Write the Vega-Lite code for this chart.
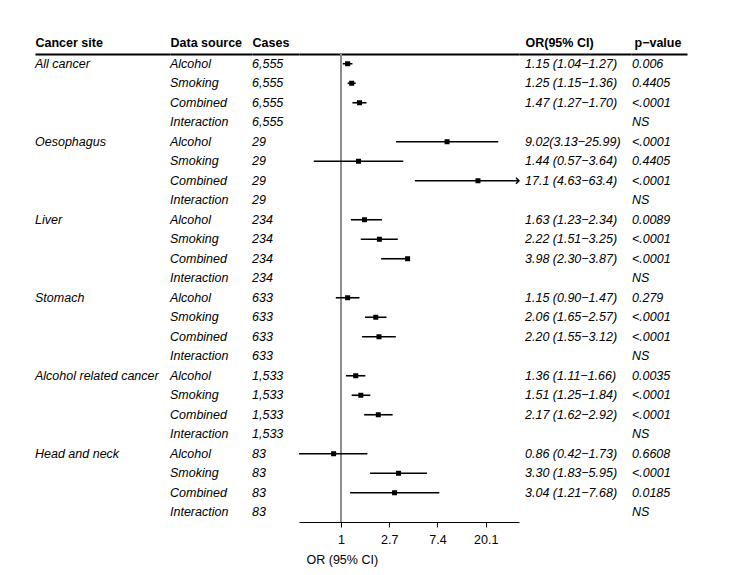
{
  "$schema": "https://vega.github.io/schema/vega-lite/v6.json",
  "background": "white",
  "padding": {"left": 35, "top": 36, "right": 20, "bottom": 5},
  "bounds": "flush",
  "spacing": 0,
  "config": {
    "view": {"stroke": null},
    "font": "Liberation Sans",
    "text": {"color": "black", "font": "Liberation Sans"},
    "axis": {"labelFont": "Liberation Sans", "titleFont": "Liberation Sans"}
  },
  "data": {
    "values": [
      {"id": 1, "site": "All cancer", "source": "Alcohol", "cases": "6,555", "or": 1.15, "lo": 1.04, "hi": 1.27, "ci": "1.15 (1.04−1.27)", "p": "0.006"},
      {"id": 2, "site": "All cancer", "source": "Smoking", "cases": "6,555", "or": 1.25, "lo": 1.15, "hi": 1.36, "ci": "1.25 (1.15−1.36)", "p": "0.4405"},
      {"id": 3, "site": "All cancer", "source": "Combined", "cases": "6,555", "or": 1.47, "lo": 1.27, "hi": 1.70, "ci": "1.47 (1.27−1.70)", "p": "<.0001"},
      {"id": 4, "site": "All cancer", "source": "Interaction", "cases": "6,555", "or": null, "lo": null, "hi": null, "ci": "", "p": "NS"},
      {"id": 5, "site": "Oesophagus", "source": "Alcohol", "cases": "29", "or": 9.02, "lo": 3.13, "hi": 25.99, "ci": "9.02(3.13−25.99)", "p": "<.0001"},
      {"id": 6, "site": "Oesophagus", "source": "Smoking", "cases": "29", "or": 1.44, "lo": 0.57, "hi": 3.64, "ci": "1.44 (0.57−3.64)", "p": "0.4405"},
      {"id": 7, "site": "Oesophagus", "source": "Combined", "cases": "29", "or": 17.1, "lo": 4.63, "hi": 63.4, "ci": "17.1 (4.63−63.4)", "p": "<.0001"},
      {"id": 8, "site": "Oesophagus", "source": "Interaction", "cases": "29", "or": null, "lo": null, "hi": null, "ci": "", "p": "NS"},
      {"id": 9, "site": "Liver", "source": "Alcohol", "cases": "234", "or": 1.63, "lo": 1.23, "hi": 2.34, "ci": "1.63 (1.23−2.34)", "p": "0.0089"},
      {"id": 10, "site": "Liver", "source": "Smoking", "cases": "234", "or": 2.22, "lo": 1.51, "hi": 3.25, "ci": "2.22 (1.51−3.25)", "p": "<.0001"},
      {"id": 11, "site": "Liver", "source": "Combined", "cases": "234", "or": 3.98, "lo": 2.30, "hi": 3.87, "ci": "3.98 (2.30−3.87)", "p": "<.0001"},
      {"id": 12, "site": "Liver", "source": "Interaction", "cases": "234", "or": null, "lo": null, "hi": null, "ci": "", "p": "NS"},
      {"id": 13, "site": "Stomach", "source": "Alcohol", "cases": "633", "or": 1.15, "lo": 0.90, "hi": 1.47, "ci": "1.15 (0.90−1.47)", "p": "0.279"},
      {"id": 14, "site": "Stomach", "source": "Smoking", "cases": "633", "or": 2.06, "lo": 1.65, "hi": 2.57, "ci": "2.06 (1.65−2.57)", "p": "<.0001"},
      {"id": 15, "site": "Stomach", "source": "Combined", "cases": "633", "or": 2.20, "lo": 1.55, "hi": 3.12, "ci": "2.20 (1.55−3.12)", "p": "<.0001"},
      {"id": 16, "site": "Stomach", "source": "Interaction", "cases": "633", "or": null, "lo": null, "hi": null, "ci": "", "p": "NS"},
      {"id": 17, "site": "Alcohol related cancer", "source": "Alcohol", "cases": "1,533", "or": 1.36, "lo": 1.11, "hi": 1.66, "ci": "1.36 (1.11−1.66)", "p": "0.0035"},
      {"id": 18, "site": "Alcohol related cancer", "source": "Smoking", "cases": "1,533", "or": 1.51, "lo": 1.25, "hi": 1.84, "ci": "1.51 (1.25−1.84)", "p": "<.0001"},
      {"id": 19, "site": "Alcohol related cancer", "source": "Combined", "cases": "1,533", "or": 2.17, "lo": 1.62, "hi": 2.92, "ci": "2.17 (1.62−2.92)", "p": "<.0001"},
      {"id": 20, "site": "Alcohol related cancer", "source": "Interaction", "cases": "1,533", "or": null, "lo": null, "hi": null, "ci": "", "p": "NS"},
      {"id": 21, "site": "Head and neck", "source": "Alcohol", "cases": "83", "or": 0.86, "lo": 0.42, "hi": 1.73, "ci": "0.86 (0.42−1.73)", "p": "0.6608"},
      {"id": 22, "site": "Head and neck", "source": "Smoking", "cases": "83", "or": 3.30, "lo": 1.83, "hi": 5.95, "ci": "3.30 (1.83−5.95)", "p": "<.0001"},
      {"id": 23, "site": "Head and neck", "source": "Combined", "cases": "83", "or": 3.04, "lo": 1.21, "hi": 7.68, "ci": "3.04 (1.21−7.68)", "p": "0.0185"},
      {"id": 24, "site": "Head and neck", "source": "Interaction", "cases": "83", "or": null, "lo": null, "hi": null, "ci": "", "p": "NS"}
    ]
  },
  "hconcat": [
    {
      "width": 135,
      "height": 468,
      "mark": {"type": "text", "align": "left", "baseline": "middle", "fontStyle": "italic", "fontSize": 12.5},
      "encoding": {
        "y": {"field": "id", "type": "ordinal", "axis": null, "scale": {"type": "point", "padding": 0.5, "domain": [1,2,3,4,5,6,7,8,9,10,11,12,13,14,15,16,17,18,19,20,21,22,23,24]}},
        "x": {"datum": 0, "type": "quantitative", "scale": {"domain": [0, 1]}, "axis": {"orient": "top", "title": "Cancer site", "labels": false, "ticks": false, "grid": false, "domainColor": "black", "domainWidth": 2, "titleFontWeight": "bold", "titleFontSize": 12.5, "titleColor": "black", "titleAnchor": "start", "titleAlign": "left", "titlePadding": 5}},
        "text": {"condition": {"test": "datum.source === 'Alcohol'", "field": "site"}, "value": ""}
      }
    },
    {
      "width": 82,
      "height": 468,
      "mark": {"type": "text", "align": "left", "baseline": "middle", "fontStyle": "italic", "fontSize": 12.5},
      "encoding": {
        "y": {"field": "id", "type": "ordinal", "axis": null, "scale": {"type": "point", "padding": 0.5, "domain": [1,2,3,4,5,6,7,8,9,10,11,12,13,14,15,16,17,18,19,20,21,22,23,24]}},
        "x": {"datum": 0, "type": "quantitative", "scale": {"domain": [0, 1]}, "axis": {"orient": "top", "title": "Data source", "labels": false, "ticks": false, "grid": false, "domainColor": "black", "domainWidth": 2, "titleFontWeight": "bold", "titleFontSize": 12.5, "titleColor": "black", "titleAnchor": "start", "titleAlign": "left", "titlePadding": 5}},
        "text": {"field": "source"}
      }
    },
    {
      "width": 47,
      "height": 468,
      "mark": {"type": "text", "align": "left", "baseline": "middle", "fontStyle": "italic", "fontSize": 12.5},
      "encoding": {
        "y": {"field": "id", "type": "ordinal", "axis": null, "scale": {"type": "point", "padding": 0.5, "domain": [1,2,3,4,5,6,7,8,9,10,11,12,13,14,15,16,17,18,19,20,21,22,23,24]}},
        "x": {"datum": 0, "type": "quantitative", "scale": {"domain": [0, 1]}, "axis": {"orient": "top", "title": "Cases", "labels": false, "ticks": false, "grid": false, "domainColor": "black", "domainWidth": 2, "titleFontWeight": "bold", "titleFontSize": 12.5, "titleColor": "black", "titleAnchor": "start", "titleAlign": "left", "titlePadding": 5}},
        "text": {"field": "cases"}
      }
    },
    {
      "width": 220,
      "height": 468,
      "layer": [
        {
          "layer": [
            {
              "mark": {"type": "rule", "color": "#8c8c8c", "strokeWidth": 1},
              "encoding": {"x": {"datum": 1, "type": "quantitative"}}
            },
            {
              "mark": {"type": "rule", "color": "black", "strokeWidth": 1.6},
              "encoding": {
                "y": {"field": "id", "type": "ordinal", "axis": null, "scale": {"type": "point", "padding": 0.5, "domain": [1,2,3,4,5,6,7,8,9,10,11,12,13,14,15,16,17,18,19,20,21,22,23,24]}},
                "x": {
                  "field": "lo", "type": "quantitative",
                  "scale": {"type": "log", "domain": [0.42, 40], "clamp": true, "nice": false},
                  "axis": {"orient": "bottom", "values": [1, 2.718281828459045, 7.38905609893065, 20.085536923187668], "labelExpr": "datum.value < 1.5 ? '1' : format(datum.value, '.1f')", "grid": false, "domainColor": "black", "domainWidth": 1.2, "tickColor": "black", "tickSize": 5, "labelFontSize": 12.5, "labelColor": "black", "labelPadding": 6, "title": "OR (95% CI)", "titleFontWeight": "normal", "titleFontSize": 12.5, "titleColor": "black", "titleAnchor": "start", "titleAlign": "left", "titlePadding": 8, "titleX": 7}
                },
                "x2": {"field": "hi"}
              }
            },
            {
              "mark": {"type": "point", "shape": "square", "filled": true, "size": 25, "color": "black", "opacity": 1},
              "encoding": {
                "y": {"field": "id", "type": "ordinal"},
                "x": {"field": "or", "type": "quantitative"}
              }
            },
            {
              "transform": [{"filter": "datum.hi > 40"}],
              "mark": {"type": "point", "shape": "M-1,-1L0,0L-1,1", "filled": false, "strokeWidth": 1.5, "size": 36, "color": "black", "opacity": 1},
              "encoding": {
                "y": {"field": "id", "type": "ordinal"},
                "x": {"field": "hi", "type": "quantitative"}
              }
            }
          ]
        },
        {
          "mark": {"type": "text", "text": ""},
          "encoding": {
            "x": {"datum": 0, "type": "quantitative", "scale": {"domain": [0, 1]}, "axis": {"orient": "top", "title": null, "labels": false, "ticks": false, "grid": false, "domainColor": "black", "domainWidth": 2}}
          }
        }
      ],
      "resolve": {"scale": {"x": "independent"}, "axis": {"x": "independent"}}
    },
    {
      "width": 112,
      "height": 468,
      "mark": {"type": "text", "align": "left", "baseline": "middle", "fontStyle": "italic", "fontSize": 12.5, "dx": 6},
      "encoding": {
        "y": {"field": "id", "type": "ordinal", "axis": null, "scale": {"type": "point", "padding": 0.5, "domain": [1,2,3,4,5,6,7,8,9,10,11,12,13,14,15,16,17,18,19,20,21,22,23,24]}},
        "x": {"datum": 0, "type": "quantitative", "scale": {"domain": [0, 1]}, "axis": {"orient": "top", "title": "OR(95% CI)", "labels": false, "ticks": false, "grid": false, "domainColor": "black", "domainWidth": 2, "titleFontWeight": "bold", "titleFontSize": 12.5, "titleColor": "black", "titleAnchor": "start", "titleAlign": "left", "titlePadding": 5, "titleX": 6}},
        "text": {"field": "ci"}
      }
    },
    {
      "width": 56,
      "height": 468,
      "mark": {"type": "text", "align": "left", "baseline": "middle", "fontStyle": "italic", "fontSize": 12.5, "dx": 1},
      "encoding": {
        "y": {"field": "id", "type": "ordinal", "axis": null, "scale": {"type": "point", "padding": 0.5, "domain": [1,2,3,4,5,6,7,8,9,10,11,12,13,14,15,16,17,18,19,20,21,22,23,24]}},
        "x": {"datum": 0, "type": "quantitative", "scale": {"domain": [0, 1]}, "axis": {"orient": "top", "title": "p−value", "labels": false, "ticks": false, "grid": false, "domainColor": "black", "domainWidth": 2, "titleFontWeight": "bold", "titleFontSize": 12.5, "titleColor": "black", "titleAnchor": "start", "titleAlign": "left", "titlePadding": 5, "titleX": 3}},
        "text": {"field": "p"}
      }
    }
  ]
}
